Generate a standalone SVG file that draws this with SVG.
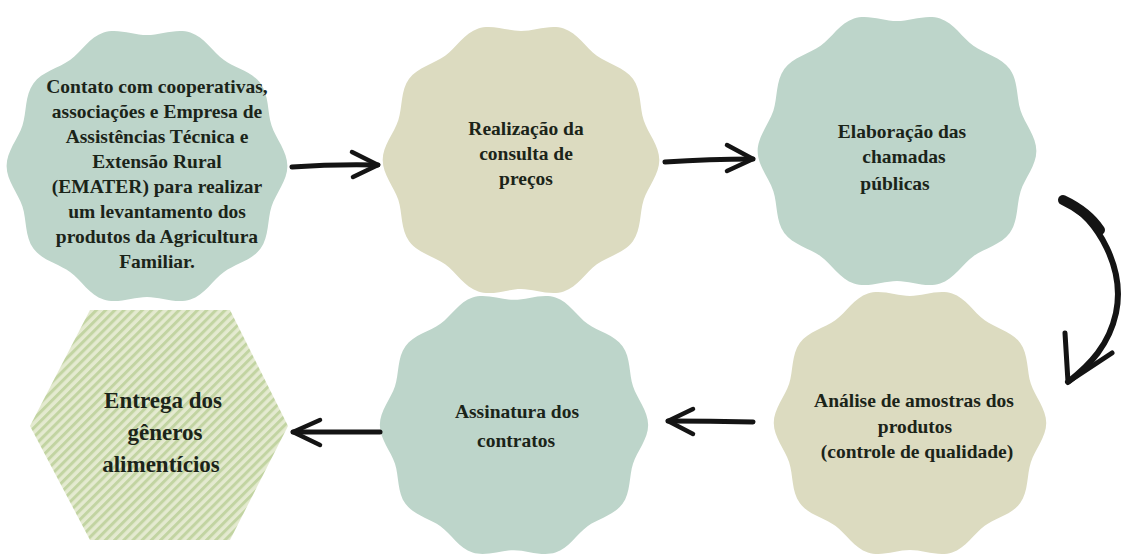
<svg xmlns="http://www.w3.org/2000/svg" width="1124" height="558" viewBox="0 0 1124 558">
<style>
.teal{fill:#bdd5ca}
.beige{fill:#dcdbc0}
.t{font-family:"Liberation Serif","Times New Roman",serif;font-weight:bold;font-size:19.5px;fill:#1b2419;text-anchor:middle}
.th{font-family:"Liberation Serif","Times New Roman",serif;font-weight:bold;font-size:23px;fill:#1b2419;text-anchor:middle}
.br{fill:none;stroke:#141414;stroke-linecap:round;stroke-linejoin:round}
</style>
<defs>
<path id="wavy" d="M104,0 C104,10.9 95.41,20.27 92.26,29.97 C89.11,39.67 90.55,52.31 84.14,61.13 C77.73,69.95 65.27,72.47 57.02,78.47 C48.77,84.47 42.51,95.54 32.14,98.91 C21.77,102.28 10.2,97 0,97 C-10.2,97 -21.77,102.28 -32.14,98.91 C-42.51,95.54 -48.77,84.47 -57.02,78.47 C-65.27,72.47 -77.73,69.95 -84.14,61.13 C-90.55,52.31 -89.11,39.67 -92.26,29.97 C-95.41,20.27 -104,10.9 -104,0 C-104,-10.9 -95.41,-20.27 -92.26,-29.97 C-89.11,-39.67 -90.55,-52.31 -84.14,-61.13 C-77.73,-69.95 -65.27,-72.47 -57.02,-78.47 C-48.77,-84.47 -42.51,-95.54 -32.14,-98.91 C-21.77,-102.28 -10.2,-97 0,-97 C10.2,-97 21.77,-102.28 32.14,-98.91 C42.51,-95.54 48.77,-84.47 57.02,-78.47 C65.27,-72.47 77.73,-69.95 84.14,-61.13 C90.55,-52.31 89.11,-39.67 92.26,-29.97 C95.41,-20.27 104,-10.9 104,0 Z"/>
<pattern id="stripes" patternUnits="userSpaceOnUse" width="6.5" height="6.5" patternTransform="rotate(45)">
<rect width="6.5" height="6.5" fill="#e4ead0"/>
<rect width="3" height="6.5" fill="#c2d4a2"/>
</pattern>
</defs>
<rect width="1124" height="558" fill="#ffffff"/>
<g id="n1">
<use href="#wavy" class="teal" transform="translate(147,166) scale(1.35)"/>
<text class="t" x="157" y="93">Contato com cooperativas,</text>
<text class="t" x="157" y="118">associações e Empresa de</text>
<text class="t" x="157" y="143">Assistências Técnica e</text>
<text class="t" x="157" y="168">Extensão Rural</text>
<text class="t" x="157" y="193">(EMATER) para realizar</text>
<text class="t" x="157" y="218">um levantamento dos</text>
<text class="t" x="157" y="243">produtos da Agricultura</text>
<text class="t" x="157" y="268">Familiar.</text>
</g>
<g id="n2">
<use href="#wavy" class="beige" transform="translate(521,160) scale(1.33)"/>
<text class="t" x="526" y="135">Realização da</text>
<text class="t" x="526" y="160">consulta de</text>
<text class="t" x="526" y="185">preços</text>
</g>
<g id="n3">
<use href="#wavy" class="teal" transform="translate(897,151) scale(1.34)"/>
<text class="t" x="902" y="138">Elaboração das</text>
<text class="t" x="904" y="163">chamadas</text>
<text class="t" x="895" y="190">públicas</text>
</g>
<g id="n5">
<use href="#wavy" class="beige" transform="translate(910,423) scale(1.31)"/>
<text class="t" x="914" y="407">Análise de amostras dos</text>
<text class="t" x="915" y="433">produtos</text>
<text class="t" x="917" y="458">(controle de qualidade)</text>
</g>
<g id="n4">
<use href="#wavy" class="teal" transform="translate(514,425) scale(1.29)"/>
<text class="t" x="517" y="418">Assinatura dos</text>
<text class="t" x="516" y="447">contratos</text>
</g>
<g id="n6">
<polygon points="90,310 230,310 288,426 230,540 90,540 30,426" fill="url(#stripes)"/>
<text class="th" x="163" y="408">Entrega dos</text>
<text class="th" x="165" y="440">gêneros</text>
<text class="th" x="161" y="472">alimentícios</text>
</g>
<g id="connectors">
<path class="br" stroke-width="5" d="M292,167 Q335,164 378,165"/>
<path class="br" stroke-width="4.5" d="M352,152 L378,165 L353,177"/>
<path class="br" stroke-width="5" d="M665,162 Q710,159 753,159"/>
<path class="br" stroke-width="4.5" d="M727,145 L753,159 L727,171"/>
<path class="br" stroke-width="6" d="M1063,200 C1100,220 1125,270 1116,313 C1109,345 1090,365 1068,382"/>
<path class="br" stroke-width="10" d="M1063,200 C1080,208 1092,218 1100,230"/>
<path class="br" stroke-width="5" d="M1065,333 L1068,382 L1112,353"/>
<path class="br" stroke-width="5" d="M753,422 Q710,421 668,421"/>
<path class="br" stroke-width="4.5" d="M693,409 L668,421 L693,434"/>
<path class="br" stroke-width="5" d="M380,432 Q336,432 293,432"/>
<path class="br" stroke-width="4.5" d="M320,420 L293,432 L320,445"/>
</g>
</svg>
